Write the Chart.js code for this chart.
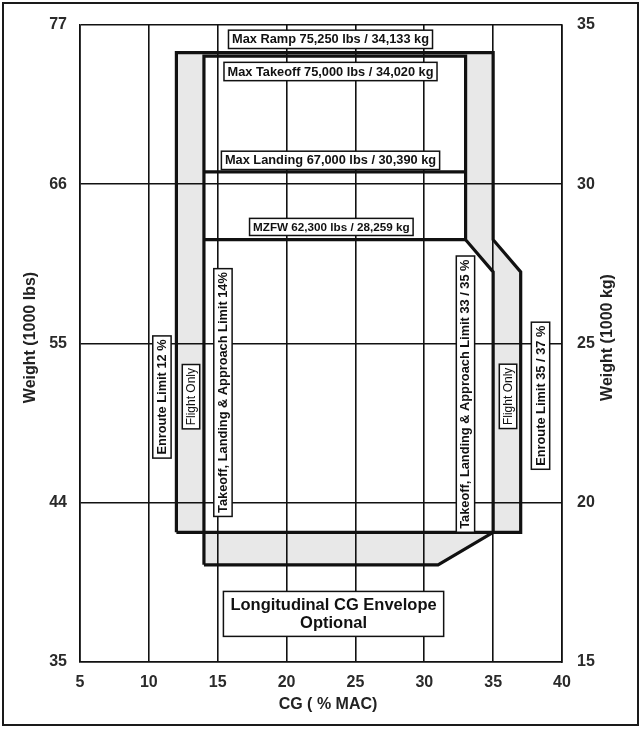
<!DOCTYPE html>
<html>
<head>
<meta charset="utf-8">
<title>Longitudinal CG Envelope</title>
<script src="https://cdn.jsdelivr.net/npm/chart.js@4.4.1/dist/chart.umd.min.js"></script>
<style>
  html, body { margin: 0; padding: 0; background: #fff; }
  #wrap { position: relative; width: 641px; height: 731px; }
  #frame { position: absolute; left: 2px; top: 2px; width: 637px; height: 724px; box-sizing: border-box; border: 2px solid #1a1a1a; pointer-events: none; }
  #cg { position: absolute; left: 0; top: 0; }
</style>
</head>
<body>
<div id="wrap">
  <canvas id="cg" width="641" height="731"></canvas>
  <div id="frame"></div>
</div>
<script>
// --- Data (CG in % MAC, weight in 1000 kg) ----------------------------------
const xTicks = [5, 10, 15, 20, 25, 30, 35, 40];
const kgTicks = [15, 20, 25, 30, 35];
const lbsTicks = ['35', '44', '55', '66', '77'];   // left axis labels at the kg grid lines

// Enroute (flight only) envelope, 12 % to 35 / 37 %
const enrouteCg = [12, 12, 35, 35, 37, 37, 12];
const enrouteKg = [19.07, 34.133, 34.133, 28.259, 27.25, 19.07, 19.07];

// Takeoff, landing & approach envelope, 14 % to 33 / 35 %
const takeoffCg = [14, 14, 33, 33, 35, 35, 31, 14];
const takeoffKg = [18.05, 34.02, 34.02, 28.259, 27.25, 19.07, 18.05, 18.05];

// Max landing weight and MZFW lines
const landingCg = [14, 33];
const landingKg = [30.39, 30.39];
const mzfwCg = [14, 33];
const mzfwKg = [28.259, 28.259];

// Boxed notes on the chart (anchor in chart units)
const notes = [
  { text: 'Max Ramp 75,250 lbs / 34,133 kg', cg: 23.19, kg: 34.55 },
  { text: 'Max Takeoff 75,000 lbs / 34,020 kg', cg: 23.19, kg: 33.54 },
  { text: 'Max Landing 67,000 lbs / 30,390 kg', cg: 23.19, kg: 30.75 },
  { text: 'MZFW 62,300 lbs / 28,259 kg', cg: 23.25, kg: 28.66, size: 11.7 },
  { text: 'Enroute Limit 12 %', cg: 10.95, kg: 23.32, vertical: true },
  { text: 'Flight Only', cg: 13.06, kg: 23.33, vertical: true, weight: 'normal', size: 12 },
  { text: 'Takeoff, Landing & Approach Limit 14%', cg: 15.38, kg: 23.46, vertical: true },
  { text: 'Takeoff, Landing & Approach Limit 33 / 35 %', cg: 32.99, kg: 23.41, vertical: true },
  { text: 'Flight Only', cg: 36.08, kg: 23.34, vertical: true, weight: 'normal', size: 12 },
  { text: 'Enroute Limit 35 / 37 %', cg: 38.44, kg: 23.36, vertical: true },
  { text: ['Longitudinal CG Envelope', 'Optional'], cg: 23.41, kg: 16.51, size: 16.5, padX: 7, padY: 4 }
];

const FONT = "'Liberation Sans', Arial, Helvetica, sans-serif";
const INK = '#111';

const toPts = (xs, ys) => xs.map((v, i) => ({ x: v, y: ys[i] }));

// --- Plugins -----------------------------------------------------------------
// light grey band between the two envelopes (drawn under the grid)
const envelopeShade = {
  id: 'envelopeShade',
  beforeDraw(chart) {
    const { ctx, scales: { x, y } } = chart;
    ctx.save();
    ctx.beginPath();
    [[enrouteCg, enrouteKg], [takeoffCg, takeoffKg]].forEach(([cs, ks]) => {
      cs.forEach((c, i) => {
        const px = x.getPixelForValue(c), py = y.getPixelForValue(ks[i]);
        if (i) ctx.lineTo(px, py); else ctx.moveTo(px, py);
      });
      ctx.closePath();
    });
    ctx.fillStyle = '#e8e8e8';
    ctx.fill('evenodd');
    ctx.restore();
  }
};

// boxed notes + axis titles
const chartText = {
  id: 'chartText',
  afterDraw(chart) {
    const { ctx, chartArea: a, scales: { x, y } } = chart;
    ctx.save();
    notes.forEach(n => {
      const size = n.size || 12.8;
      const lines = Array.isArray(n.text) ? n.text : [n.text];
      const lh = size * 1.12;
      ctx.font = `${n.weight || 'bold'} ${size}px ${FONT}`;
      const tw = Math.max(...lines.map(l => ctx.measureText(l).width));
      const padX = n.padX || 3.5, padY = n.padY || 2;
      const w = tw + padX * 2, h = lh * lines.length + padY * 2;
      ctx.save();
      ctx.translate(x.getPixelForValue(n.cg), y.getPixelForValue(n.kg));
      if (n.vertical) ctx.rotate(-Math.PI / 2);
      ctx.fillStyle = '#fff';
      ctx.fillRect(-w / 2, -h / 2, w, h);
      ctx.lineWidth = 1.5;
      ctx.strokeStyle = INK;
      ctx.strokeRect(-w / 2, -h / 2, w, h);
      ctx.fillStyle = INK;
      ctx.textAlign = 'center';
      ctx.textBaseline = 'middle';
      lines.forEach((l, i) => ctx.fillText(l, 0, -h / 2 + padY + lh * (i + 0.5) + 0.5));
      ctx.restore();
    });

    // axis titles
    ctx.font = `bold 16px ${FONT}`;
    ctx.fillStyle = '#222';
    ctx.textAlign = 'center';
    ctx.textBaseline = 'middle';
    ctx.fillText('CG ( % MAC)', (a.left + a.right) / 2 + 7, a.bottom + 43);
    [['Weight (1000 lbs)', 30.5], ['Weight (1000 kg)', 608]].forEach(([t, px]) => {
      ctx.save();
      ctx.translate(px, (a.top + a.bottom) / 2 - 6);
      ctx.rotate(-Math.PI / 2);
      ctx.fillText(t, 0, 0);
      ctx.restore();
    });
    ctx.restore();
  }
};

// --- Chart -------------------------------------------------------------------
const tickFont = { family: FONT, size: 16, weight: 'bold' };
const gridOpts = { color: INK, lineWidth: 1.6, drawTicks: false };
const borderOpts = { display: true, color: INK, width: 1.6 };
const fixTicks = vals => s => { s.ticks = vals.map(v => ({ value: v })); };

const lineSet = (xs, ys) => ({
  data: toPts(xs, ys),
  showLine: true,
  borderColor: INK,
  borderWidth: 3.2,
  borderJoinStyle: 'miter',
  pointRadius: 0,
  fill: false,
  tension: 0
});

new Chart(document.getElementById('cg'), {
  type: 'scatter',
  data: {
    datasets: [
      lineSet(enrouteCg, enrouteKg),
      lineSet(takeoffCg, takeoffKg),
      lineSet(landingCg, landingKg),
      lineSet(mzfwCg, mzfwKg)
    ]
  },
  options: {
    responsive: false,
    animation: false,
    layout: { padding: { top: 25, left: 0, right: 0, bottom: 0 } },
    plugins: { legend: { display: false }, tooltip: { enabled: false } },
    scales: {
      x: {
        type: 'linear', min: 5, max: 40,
        afterBuildTicks: fixTicks(xTicks),
        ticks: { font: tickFont, color: '#2a2a2a', padding: 11 },
        grid: gridOpts, border: borderOpts,
        afterFit: s => { s.height = 69; }
      },
      y: {
        type: 'linear', position: 'left', min: 15, max: 35,
        afterBuildTicks: fixTicks(kgTicks),
        ticks: { font: tickFont, color: '#2a2a2a', padding: 13, callback: v => lbsTicks[kgTicks.indexOf(v)] },
        grid: gridOpts, border: borderOpts,
        afterFit: s => { s.width = 80; }
      },
      y2: {
        type: 'linear', position: 'right', min: 15, max: 35,
        afterBuildTicks: fixTicks(kgTicks),
        ticks: { font: tickFont, color: '#2a2a2a', padding: 15 },
        grid: { display: false, drawTicks: false }, border: borderOpts,
        afterFit: s => { s.width = 79; }
      }
    }
  },
  plugins: [envelopeShade, chartText]
});
</script>
</body>
</html>
